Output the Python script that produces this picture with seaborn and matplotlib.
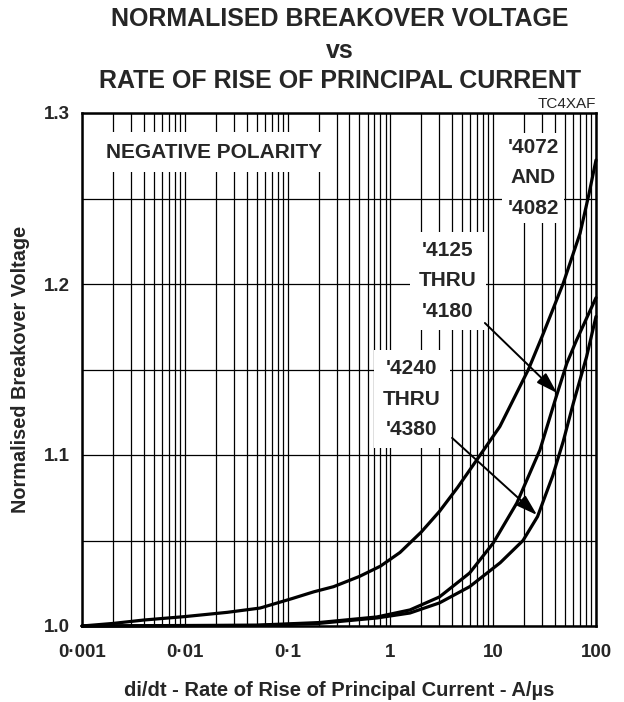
import numpy as np
import pandas as pd
import matplotlib
matplotlib.use("Agg")
import matplotlib.pyplot as plt
import seaborn as sns
from matplotlib.ticker import FixedLocator, FixedFormatter, NullFormatter

# ---------------- data ----------------
curve_names = ["'4072 AND '4082", "'4125 THRU '4180", "'4240 THRU '4380"]

x_4072 = [0.001, 0.002, 0.004, 0.01, 0.026, 0.054, 0.11, 0.18, 0.28, 0.5, 0.8,
          1.24, 2.0, 3.0, 4.5, 6.9, 11.6, 22.0, 30.7, 48.0, 70.0, 85.0, 100.0]
y_4072 = [1.000, 1.0015, 1.0035, 1.0055, 1.008, 1.0105, 1.016, 1.020, 1.023, 1.029, 1.035,
          1.043, 1.055, 1.067, 1.081, 1.097, 1.1166, 1.150, 1.171, 1.2004, 1.2297, 1.252, 1.2725]

x_4125 = [0.001, 0.05, 0.2, 0.74, 1.55, 3.0, 5.9, 10.0, 17.0, 28.5, 40.0, 52.0, 64.5, 100.0]
y_4125 = [1.000, 1.0005, 1.002, 1.0053, 1.0094, 1.017, 1.031, 1.0485, 1.072, 1.103,
          1.132, 1.1536, 1.167, 1.192]

x_4240 = [0.001, 0.05, 0.2, 0.74, 1.55, 3.0, 5.9, 11.7, 19.5, 27.0, 38.0, 48.0, 60.0, 81.0, 100.0]
y_4240 = [1.000, 1.0003, 1.0015, 1.0047, 1.0076, 1.0135, 1.023, 1.037, 1.050, 1.064,
          1.088, 1.108, 1.130, 1.1575, 1.181]

x_major = [0.001, 0.01, 0.1, 1, 10, 100]
x_tick_labels = ["0\u00b7001", "0\u00b701", "0\u00b71", "1", "10", "100"]
y_major = [1.0, 1.1, 1.2, 1.3]
y_tick_labels = ["1.0", "1.1", "1.2", "1.3"]
y_minor = [1.05, 1.15, 1.25]

title_lines = ["NORMALISED BREAKOVER VOLTAGE", "vs", "RATE OF RISE OF PRINCIPAL CURRENT"]
x_label = "di/dt - Rate of Rise of Principal Current - A/\u00b5s"
y_label = "Normalised Breakover Voltage"

# ---------------- figure ----------------
sns.set_theme(style="white")
plt.rcParams['font.family'] = ['Liberation Sans', 'DejaVu Sans']

fig = plt.figure(figsize=(6.24, 7.02), dpi=100)
ax = fig.add_axes([82/624, 1-626/702, (596-82)/624, (626-113)/702])

df = pd.concat([
    pd.DataFrame({"x": x_4072, "y": y_4072, "curve": curve_names[0]}),
    pd.DataFrame({"x": x_4125, "y": y_4125, "curve": curve_names[1]}),
    pd.DataFrame({"x": x_4240, "y": y_4240, "curve": curve_names[2]}),
], ignore_index=True)

sns.lineplot(data=df, x="x", y="y", hue="curve", palette=["black"]*3,
             estimator=None, sort=False, linewidth=2.3, legend=False, ax=ax, zorder=5)
for ln in ax.lines:
    ln.set_clip_on(False)
    ln.set_solid_joinstyle("round")

ax.set_xscale("log")
ax.set_xlim(0.001, 100)
ax.set_ylim(1.0, 1.3)

minor_x = [m * 10.0**e for e in range(-3, 2) for m in range(2, 10)]
ax.xaxis.set_major_locator(FixedLocator(x_major))
ax.xaxis.set_major_formatter(FixedFormatter(x_tick_labels))
ax.xaxis.set_minor_locator(FixedLocator(minor_x))
ax.xaxis.set_minor_formatter(NullFormatter())
ax.yaxis.set_major_locator(FixedLocator(y_major))
ax.yaxis.set_major_formatter(FixedFormatter(y_tick_labels))
ax.yaxis.set_minor_locator(FixedLocator(y_minor))
ax.yaxis.set_minor_formatter(NullFormatter())

ax.grid(which="both", axis="both", color="black", linewidth=0.9)
ax.tick_params(which="both", length=0)
ax.tick_params(axis="x", pad=13, labelsize=13.5)
ax.tick_params(axis="y", pad=9, labelsize=13.5)
for lab in ax.get_xticklabels() + ax.get_yticklabels():
    lab.set_fontweight("bold")
for sp in ax.spines.values():
    sp.set_visible(True)
    sp.set_color("black")
    sp.set_linewidth(1.8)
    sp.set_zorder(6)

ax.set_xlabel(x_label, fontsize=14.5, fontweight="bold", labelpad=14)
ax.set_ylabel(y_label, fontsize=14.3, fontweight="bold", labelpad=10)

# ---------------- annotations ----------------
ax.text(0.0192, 1.277, "NEGATIVE POLARITY", ha="center", va="center", fontsize=15,
        fontweight="bold", zorder=4,
        bbox=dict(boxstyle="square,pad=0.5", facecolor="white", edgecolor="none"))
ax.text(24.4, 1.262, "'4072\nAND\n'4082", ha="center", va="center", fontsize=15,
        fontweight="bold", linespacing=1.75, zorder=4,
        bbox=dict(boxstyle="square,pad=0.25", facecolor="white", edgecolor="none"))
ax.text(3.63, 1.2018, "'4125\nTHRU\n'4180", ha="center", va="center", fontsize=15,
        fontweight="bold", linespacing=1.75, zorder=4,
        bbox=dict(boxstyle="square,pad=0.45", facecolor="white", edgecolor="none"))
ax.text(1.62, 1.1327, "'4240\nTHRU\n'4380", ha="center", va="center", fontsize=15,
        fontweight="bold", linespacing=1.75, zorder=4,
        bbox=dict(boxstyle="square,pad=0.45", facecolor="white", edgecolor="none"))

ax.annotate("", xy=(41.7, 1.1363), xytext=(8.3, 1.1772),
            arrowprops=dict(arrowstyle="-|>,head_length=0.8,head_width=0.25", color="black",
                            lw=1.4, mutation_scale=16, shrinkA=0, shrinkB=0), zorder=5)
ax.annotate("", xy=(26.7, 1.0649), xytext=(3.98, 1.110),
            arrowprops=dict(arrowstyle="-|>,head_length=0.8,head_width=0.25", color="black",
                            lw=1.4, mutation_scale=16, shrinkA=0, shrinkB=0), zorder=5)

# ---------------- titles ----------------
fig.text(340/624, 1-19/702, title_lines[0], ha="center", va="center", fontsize=18, fontweight="bold")
fig.text(340/624, 1-51/702, title_lines[1], ha="center", va="center", fontsize=18, fontweight="bold")
fig.text(340/624, 1-81/702, title_lines[2], ha="center", va="center", fontsize=18, fontweight="bold")
fig.text(596/624, 1-104/702, "TC4XAF", ha="right", va="center", fontsize=11)

fig.savefig("out.png", dpi=100)
